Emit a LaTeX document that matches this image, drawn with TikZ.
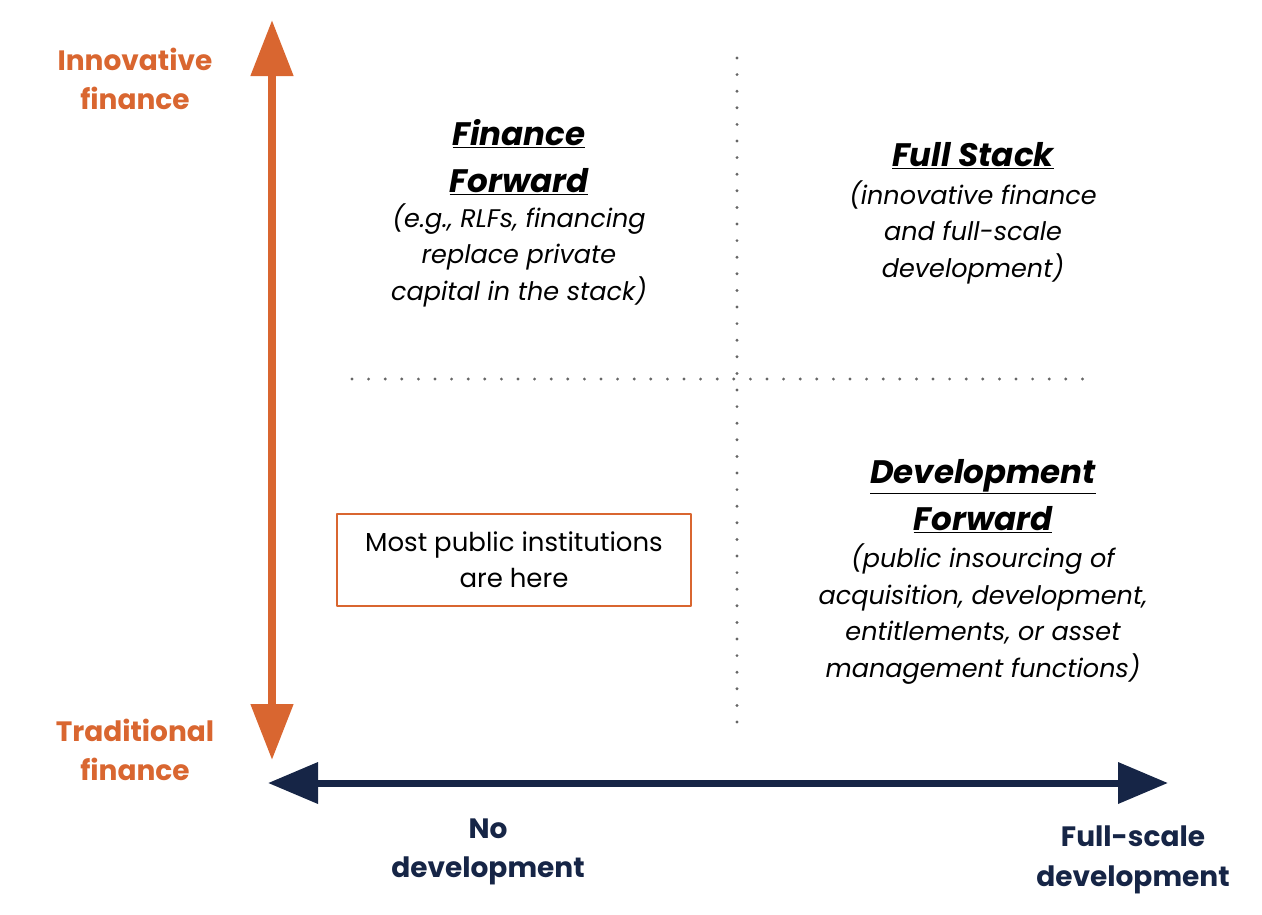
\documentclass[tikz,border=0pt]{standalone}
\usepackage{fontspec}
\setmainfont{Poppins}
\usetikzlibrary{arrows.meta}
\definecolor{finorange}{RGB}{217,102,48}
\definecolor{devnavy}{RGB}{22,37,70}
\begin{document}
\begin{tikzpicture}[line cap=round,line join=round,x=1pt,y=-1pt,
    axislabel/.style={font=\fontsize{28}{39.5}\selectfont\bfseries,align=center},
    quadtitle/.style={font=\fontsize{32.5}{47}\selectfont\bfseries\itshape,align=center},
    quadtext/.style={font=\fontsize{25.5}{36.5}\selectfont\itshape,align=center},
    dotline/.style={line width=3.2pt,color=black!60,dash pattern=on 0pt off 16.6pt}]
    \useasboundingbox (0,0) rectangle (1262,914);
    % axes
    \coordinate (ytop) at (272,20);
    \coordinate (ybot) at (272,760);
    \coordinate (xleft) at (268,783);
    \coordinate (xright) at (1168,783);
    \draw[line width=8pt,color=finorange,line cap=butt,{Triangle[length=56pt,width=41pt]}-{Triangle[length=56pt,width=41pt]}] (ytop) -- (ybot);
    \draw[line width=7pt,color=devnavy,line cap=butt,{Triangle[length=50pt,width=40pt]}-{Triangle[length=50pt,width=40pt]}] (xleft) -- (xright);
    % quadrant dividers
    \coordinate (vtop) at (737,58);
    \coordinate (vbot) at (737,735);
    \coordinate (hleft) at (352,379);
    \coordinate (hright) at (1085,379);
    \draw[dotline] (vtop) -- (vbot);
    \draw[dotline] (hleft) -- (hright);
    % axis labels
    \node[axislabel,color=finorange] (innov) at (135,79) {Innovative\\finance};
    \node[axislabel,color=finorange] (trad) at (135,750) {Traditional\\finance};
    \node[axislabel,color=devnavy] (nodev) at (488,852) {No\\development};
    \node[axislabel,color=devnavy] (fulldev) at (1133,860) {Full-scale\\development};
    % quadrants
    \node[quadtitle] (fftitle) at (519,157) {\underline{Finance}\\\underline{Forward}};
    \node[quadtext] (fftext) at (519,255) {(e.g., RLFs, financing\\replace private\\capital in the stack)};
    \node[quadtitle] (fstitle) at (973,156) {\underline{Full Stack}};
    \node[quadtext] (fstext) at (973,232) {(innovative finance\\and full-scale\\development)};
    \node[quadtitle] (dftitle) at (983,496) {\underline{Development}\\\underline{Forward}};
    \node[quadtext] (dftext) at (983,614) {(public insourcing of\\acquisition, development,\\entitlements, or asset\\management functions)};
    \node[draw=finorange,line width=2.6pt,minimum width=354pt,minimum height=92pt,align=center,
      font=\fontsize{26}{36}\selectfont] (most) at (514,560) {Most public institutions\\are here};
\end{tikzpicture}
\end{document}
